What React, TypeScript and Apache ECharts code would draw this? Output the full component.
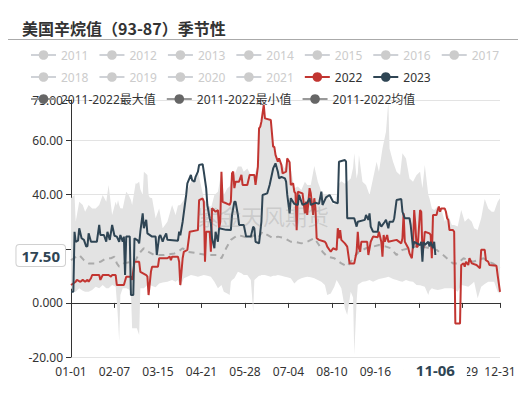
import { useEffect, useRef } from "react";
import * as echarts from "echarts";

const FONT = "'Noto Sans', 'Noto Sans CJK SC', sans-serif";
const TITLE = "美国辛烷值（93-87）季节性";
const WATERMARK = "紫金天风期货";

const hiddenYears = ["2011", "2012", "2013", "2014", "2015", "2016", "2017", "2018", "2019", "2020", "2021"];
const nameMax = "2011-2022最大值";
const nameMin = "2011-2022最小值";
const nameMean = "2011-2022均值";
const pointerDay = "11-06";
const pointerValue = 17.5;
// y tick value whose label sits under the pointer label in the reference
const coveredTick = 20;

// [day index of year, value]
const s2022: [number, number][] = [
  [0, 6.6], [4, 7.8], [5, 8.5], [8, 7.8], [10, 8.5], [12, 7.8], [14, 8.5], [15, 7.8], [17, 9.1], [18, 10.3],
  [24, 10.3], [25, 8.5], [27, 10.3], [32, 10.3], [34, 9.7], [35, 10.3], [38, 10.3], [39, 6.6], [45, 6.6], [47, 9.7],
  [51, 9.7], [52, 8.5], [54, 15.2], [58, 15.2], [59, 11.5], [64, 10.3], [65, 9.7], [66, 2.9], [68, 11.5], [69, 13.4],
  [74, 13.4], [75, 16.5], [82, 16.5], [84, 17.1], [85, 15.8], [86, 17.1], [91, 17.1], [92, 15.2], [93, 6.6], [95, 16.5],
  [96, 18.9], [99, 19.6], [101, 26.3], [108, 26.9], [109, 38], [112, 38.6], [113, 37.4], [114, 15.2], [115, 26.3], [118, 26.3],
  [119, 18.9], [120, 35], [123, 33.7], [125, 34.3], [126, 27.6], [127, 30], [128, 48.5], [129, 37.4], [135, 36.2], [136, 37.4],
  [137, 47.9], [138, 48.5], [139, 42.4], [140, 44.8], [143, 44.8], [145, 47.3], [146, 43.6], [150, 43.6], [152, 47.3], [156, 47.3],
  [157, 43.6], [159, 50.4], [160, 64.5], [161, 65.1], [162, 67], [164, 73.2], [165, 68.2], [170, 67.6], [172, 57.7], [173, 57.7],
  [174, 54.7], [176, 52.2], [177, 53.4], [179, 51], [180, 47.9], [183, 48.5], [184, 53.4], [186, 52], [187, 43.6], [189, 44.2],
  [190, 41.1], [191, 40.5], [192, 26.9], [193, 41.1], [197, 40.5], [199, 33.1], [200, 37.4], [201, 32.5], [203, 42.4], [204, 40.5],
  [206, 32.5], [207, 38.7], [208, 34.9], [209, 23.9], [211, 23.3], [216, 22.6], [217, 22], [218, 20.8], [221, 18.9], [223, 20.2],
  [226, 19.6], [227, 27.6], [228, 23.9], [229, 26.9], [230, 23.3], [233, 22], [235, 20.8], [237, 14.6], [241, 14.6], [243, 18.9],
  [244, 26.3], [245, 20.2], [246, 18.9], [247, 22.6], [252, 22.6], [253, 17.7], [255, 22.6], [257, 24.5], [261, 24.3], [262, 26.3],
  [264, 22.6], [265, 17.1], [266, 25.1], [267, 22.6], [269, 25.1], [270, 22.6], [277, 23.3], [281, 22], [282, 23.9], [283, 33.1],
  [284, 22.6], [287, 20.2], [288, 18.3], [290, 16.5], [291, 21.4], [292, 34.3], [293, 28.8], [294, 20.8], [295, 20.8], [297, 34.3],
  [298, 33.7], [299, 18.9], [300, 20.8], [301, 26.3], [305, 25.7], [306, 25.1], [307, 16.5], [308, 32.5], [311, 32.5], [312, 34.3],
  [313, 35.6], [314, 33.7], [315, 34.9], [318, 34.9], [319, 33.7], [320, 31.3], [321, 30.7], [322, 26.9], [325, 26.9], [326, 26.3],
  [327, -7.6], [331, -7.6], [332, 14], [334, 14.6], [335, 13.4], [336, 15.2], [338, 14], [339, 16.5], [341, 14.6], [345, 14],
  [348, 12.8], [349, 19.6], [352, 19.6], [353, 15.8], [355, 15.2], [356, 14], [362, 13.7], [363, 10.3], [365, 4.1],
];

const s2023: [number, number][] = [
  [0, 4.1], [2, 4.1], [3, 26.3], [4, 22.6], [6, 23], [7, 27.6], [9, 23.9], [11, 23.3], [13, 20.8], [14, 21],
  [15, 25.7], [17, 22.6], [22, 22.6], [24, 28.8], [25, 25.1], [28, 25.1], [30, 22.6], [31, 26.3], [33, 23.3], [35, 28.8],
  [37, 24.8], [39, 24.5], [41, 22.6], [42, 25.1], [44, 22.6], [45, 24.5], [46, 10.3], [47, 24.5], [50, 24.5], [51, 2.9],
  [53, 2.9], [54, 23.9], [57, 23], [58, 22], [59, 26.3], [61, 33.1], [62, 27.6], [64, 30.7], [65, 25.7], [69, 24.5],
  [72, 24.5], [73, 17.7], [75, 24.5], [76, 25.1], [78, 22.6], [79, 23.9], [81, 25.7], [82, 23.3], [91, 23], [92, 26.3],
  [93, 25], [95, 30], [98, 39.9], [99, 44.2], [102, 47.3], [103, 45.4], [105, 44.8], [106, 46.6], [108, 48.5], [109, 51],
  [112, 51.3], [113, 48.5], [115, 42.4], [116, 36.2], [118, 31.3], [119, 29.4], [120, 23.9], [122, 20.2], [123, 26.3], [125, 22.6],
  [126, 27.6], [132, 27], [136, 26.9], [137, 32.5], [139, 37.4], [140, 37.4], [142, 32.5], [143, 28.8], [147, 28.8], [149, 24.5],
  [153, 24.5], [155, 28.2], [156, 27.6], [157, 22.6], [160, 22], [162, 30], [163, 39.9], [167, 40.5], [169, 43.6], [172, 49.7],
  [174, 51.6], [176, 48.5], [177, 46], [179, 46.6], [182, 46], [183, 44.8], [184, 39.9], [186, 33.1], [187, 38.7], [190, 36.6],
  [193, 36.2], [194, 39.9], [197, 36.2], [201, 37], [203, 38.7], [204, 36.2], [208, 37], [211, 36.6], [213, 41.1], [214, 36.2],
  [217, 39], [220, 39.9], [223, 37.4], [227, 36.8], [228, 52.2], [233, 52.8], [234, 52.2], [235, 31.3], [241, 31.3], [243, 28.2],
  [244, 30], [250, 30.7], [251, 32.5], [253, 30.7], [254, 33.1], [255, 28.2], [257, 26.3], [261, 26.3], [262, 30], [264, 28.2],
  [267, 30], [268, 30.7], [270, 27.6], [271, 30], [274, 30], [275, 31.3], [277, 38], [281, 38.4], [282, 33.7], [284, 31.3],
  [288, 31.3], [289, 28.8], [291, 20.2], [292, 22.6], [297, 21.4], [298, 22.6], [299, 15.2], [300, 22.6], [301, 21.4], [304, 22.6],
  [305, 20.8], [306, 22.6], [308, 20.2], [309, 22.6], [310, 17.7],
];

const meanPts: [number, number][] = [
  [0, 15.8], [7, 17.7], [11, 15.8], [15, 14.6], [20, 14.6], [25, 15.2], [30, 16.5], [34, 16.5], [37, 17.1], [39, 14.6],
  [41, 13.4], [45, 14.6], [51, 15.2], [55, 15.8], [58, 18.3], [62, 20.2], [66, 18.9], [71, 17.7], [79, 17.7], [88, 18.3],
  [91, 18.9], [95, 20.2], [99, 18.9], [108, 18.3], [116, 17.7], [125, 17.7], [128, 16.5], [132, 20.2], [136, 23.3], [142, 25.1],
  [147, 24.5], [152, 23.9], [156, 25.1], [159, 23.9], [163, 26.3], [167, 25.1], [172, 23.9], [176, 24.5], [182, 23.9], [187, 22.6],
  [190, 22.6], [196, 22], [201, 22.6], [207, 23.9], [211, 21.4], [214, 18.9], [218, 17.1], [224, 16.5], [230, 14.6], [235, 13.4],
  [240, 16.5], [245, 18.9], [251, 20.2], [257, 20.8], [262, 21.4], [268, 20.8], [272, 20.2], [277, 17.7], [282, 19.6], [288, 20.2],
  [294, 20.8], [299, 20.8], [305, 20.2], [311, 19.6], [315, 18.3], [321, 16], [325, 14.6], [329, 14.6], [334, 16.5], [338, 15.8],
  [342, 15.2], [346, 15.8], [351, 16.5], [355, 15.2], [359, 14.6], [363, 13.4], [365, 13],
];

const bandDays = [
  0, 3, 4, 7, 10, 12, 15, 18, 21, 24, 27, 30, 32, 35, 38, 39, 40, 41, 42, 44,
  47, 49, 51, 52, 55, 56, 58, 59, 61, 62, 65, 66, 67, 69, 72, 75, 78, 82, 86, 89,
  91, 93, 96, 98, 102, 105, 108, 113, 116, 119, 122, 125, 128, 130, 133, 135, 136, 137, 139, 142,
  145, 147, 150, 153, 155, 156, 159, 160, 161, 162, 164, 165, 170, 172, 174, 176, 179, 182, 184, 187,
  190, 193, 196, 199, 201, 204, 207, 210, 213, 216, 218, 221, 224, 226, 228, 230, 233, 235, 238, 240,
  241, 243, 244, 245, 248, 251, 254, 257, 260, 262, 265, 268, 270, 271, 274, 277, 280, 282, 285, 288,
  291, 294, 297, 299, 301, 304, 305, 307, 309, 312, 315, 318, 321, 324, 326, 329, 332, 335, 338, 341,
  343, 346, 349, 352, 355, 358, 360, 363, 365,
];
const bandMax = [
  38.7, 39.9, 30, 37.4, 36.2, 33.7, 36.2, 34.9, 34.9, 36.2, 39.9, 37.4, 43.6, 32.5, 37.4, 36, 38, 36.2, 35, 34.9,
  41.1, 39.9, 38, 36.2, 44.2, 44, 44.8, 42, 39.9, 48.5, 47.3, 39.9, 39, 38.7, 31.3, 34.9, 27.6, 30, 36.2, 32.5,
  36, 36.2, 38, 40.5, 44.8, 46, 48.5, 38.7, 36.2, 34.9, 39.9, 41.1, 48.5, 39.9, 42.4, 43, 44.8, 48, 47.3, 50.4,
  50.4, 48.5, 49.7, 47.3, 47.3, 47.3, 51, 64.5, 65.1, 67, 73.2, 68.2, 67.6, 57.7, 55.3, 53, 51.6, 49.7, 54.1, 49.7,
  42.4, 43, 41.7, 44.8, 43.6, 43.6, 50.6, 44.8, 41.1, 39.9, 39.9, 37.4, 36.2, 39.9, 44, 45, 44, 44.8, 46, 50,
  55.3, 46, 48, 54.7, 44.8, 43.6, 39.9, 46, 52.2, 48.5, 57.1, 63.3, 74.4, 57.1, 52.2, 48.5, 47.3, 55.3, 53.4, 46,
  44.8, 47.3, 48.5, 42.4, 51, 39.9, 38.7, 34.9, 34.3, 35.6, 34.9, 30, 32.5, 28.8, 28.8, 28.2, 34.3, 30, 31.3, 30,
  27.6, 26.9, 31.3, 38.4, 34.9, 33.7, 33.7, 37.4, 38.7,
];
const bandMin = [
  5.4, 4.1, 4.1, 5.4, 4.5, 4.1, 4.1, 4.8, 6, 5.4, 6.6, 5.4, 5.4, 6.6, 6, 0.5, -6, -14.3, 2.9, 5.4,
  5.4, 5, 4.1, -9.4, -9.4, -9.4, -11.9, 5.4, 5.4, 5.4, 6.6, 2.5, 6.6, 6.2, 5.8, 7.2, 7.5, 7.8, 8.5, 7.8,
  8.5, 6, 9.1, 9.5, 10.3, 10, 9.7, 10.3, 10, 9.7, 7.8, 5.4, 6.6, 4.1, 3.5, 2.9, 7.8, 8.5, 9.1, 11.5,
  11, 10.3, 10.3, 8.5, -3.2, 8.5, 9.7, 10, 10, 10.3, 10.3, 10.3, 9.7, 10, 10, 10.3, 10, 9.7, 9.5, 9.1,
  7.2, 8.5, 9.1, 9.5, 9.7, 9.5, 9.1, 8.5, 7.8, 6.6, 2.9, 3.5, 6, 8.5, 7, 5.4, -2, -4.5, 4.1, 2,
  -19.2, 0.5, 6.6, 7, 7.8, 8, 8.5, 7.8, 8.5, 8.8, 9.1, 9.4, 9.7, 9.5, 8.8, 8.5, 8, 7.8, 8.5, 8,
  7.8, 6.6, 6.5, 6.2, 6, 2.9, 4.5, 5.4, 5, 4.8, 5, 5.4, 5.4, 5.4, 5, 4.1, 6.6, 6.3, 6, 7,
  7.8, 1.7, 6, 7, 7.8, 7.8, 7.8, 4.1, 3.5,
];

function buildDays(): string[] {
  const monthLens = [31, 29, 31, 30, 31, 30, 31, 31, 30, 31, 30, 31];
  const out: string[] = [];
  monthLens.forEach((len, m) => {
    for (let d = 1; d <= len; d++) {
      out.push(String(m + 1).padStart(2, "0") + "-" + String(d).padStart(2, "0"));
    }
  });
  return out;
}

export default function App() {
  const ref = useRef<HTMLDivElement>(null);

  useEffect(() => {
    if (!ref.current) return;
    document.body.style.margin = "0";
    const chart = echarts.init(ref.current, null, { renderer: "svg" });
    const days = buildDays();
    const lastIdx = days.length - 1;
    const showIdx = (idx: number) => idx % 37 === 0 || idx === lastIdx;
    const pointerIdx = days.indexOf(pointerDay);

    const grayLegend = {
      itemStyle: { color: "#666" },
      lineStyle: { color: "#999", opacity: 1, type: "solid", width: 2 },
    };

    const selected: Record<string, boolean> = {};
    hiddenYears.forEach((y) => (selected[y] = false));

    const lineBase = {
      type: "line",
      symbol: "circle",
      symbolSize: 6,
      showSymbol: false,
      xAxisIndex: 0,
      yAxisIndex: 0,
    };

    const option: any = {
      animation: false,
      title: {
        text: TITLE,
        left: 17,
        top: 15,
        textStyle: { fontSize: 16, fontWeight: "bold", color: "#333", fontFamily: "'Noto Sans CJK SC', sans-serif" },
      },
      legend: {
        left: 25,
        top: 44,
        right: 10,
        itemWidth: 25,
        itemHeight: 12,
        itemGap: 10,
        inactiveColor: "#ccc",
        textStyle: { fontSize: 12, color: "#333", fontFamily: FONT },
        selected,
        data: [
          ...hiddenYears.map((n) => ({ name: n })),
          { name: "2022" },
          { name: "2023" },
          { name: nameMax, ...grayLegend },
          { name: nameMin, ...grayLegend },
          { name: nameMean, ...grayLegend },
        ],
      },
      grid: { left: 71, right: 26, top: 100, bottom: 38 },
      xAxis: [
        {
          type: "category",
          data: days,
          boundaryGap: false,
          position: "bottom",
          axisLine: { show: false, onZero: false },
          axisTick: { show: false },
          splitLine: { show: false },
          axisLabel: {
            interval: (idx: number) => showIdx(idx),
            color: "#333",
            fontSize: 12,
            fontFamily: FONT,
            margin: 8,
          },
          axisPointer: {
            show: true,
            type: "line",
            status: "show",
            value: pointerIdx,
            triggerTooltip: false,
            lineStyle: { opacity: 0 },
            label: {
              show: true,
              margin: 3,
              padding: [2, 12],
              backgroundColor: "#fff",
              color: "#2f4554",
              fontWeight: "bold",
              fontSize: 15,
              fontFamily: FONT,
              shadowBlur: 0,
            },
          },
        },
        {
          type: "category",
          data: days,
          boundaryGap: false,
          position: "bottom",
          axisLine: { show: true, onZero: true, lineStyle: { color: "#333" } },
          axisTick: { show: true, interval: (idx: number) => showIdx(idx), lineStyle: { color: "#333" } },
          axisLabel: { show: false },
          splitLine: { show: false },
        },
      ],
      yAxis: {
        type: "value",
        min: -20,
        max: 75,
        interval: 20,
        axisLine: { show: true, lineStyle: { color: "#333" } },
        axisTick: { show: true, lineStyle: { color: "#333" } },
        axisLabel: {
          color: "#333",
          fontSize: 12,
          fontFamily: FONT,
          formatter: (v: number) => (v === coveredTick ? "" : v.toPrecision(4)),
        },
        splitLine: { lineStyle: { color: "#e3e3e3" } },
        axisPointer: {
          show: true,
          type: "line",
          status: "show",
          value: pointerValue,
          triggerTooltip: false,
          lineStyle: { opacity: 0 },
          label: {
            show: true,
            precision: 2,
            margin: 6,
            padding: [3, 5],
            backgroundColor: "#fff",
            borderColor: "#d0d0d0",
            borderWidth: 1,
            color: "#2f4554",
            fontWeight: "bold",
            fontSize: 15,
            fontFamily: FONT,
            shadowBlur: 0,
          },
        },
      },
      graphic: [
        {
          type: "line",
          shape: { x1: 8, y1: 39.5, x2: 518, y2: 39.5 },
          style: { stroke: "#aaa", lineWidth: 1 },
          silent: true,
        },
        {
          type: "text",
          left: 197,
          top: 204,
          z: 100,
          silent: true,
          style: {
            text: WATERMARK,
            fontSize: 22,
            fontFamily: "'Noto Sans CJK SC', sans-serif",
            fill: "rgba(120,120,120,0.22)",
          },
        },
      ],
      series: [
        ...hiddenYears.map((n) => ({ ...lineBase, name: n, data: [] })),
        {
          ...lineBase,
          name: nameMin,
          stack: "band",
          stackStrategy: "all",
          data: bandDays.map((d, k) => [d, bandMin[k]]),
          itemStyle: { color: "#666" },
          lineStyle: { opacity: 0 },
          z: 1,
        },
        {
          ...lineBase,
          name: nameMax,
          stack: "band",
          stackStrategy: "all",
          data: bandDays.map((d, k) => [d, +(bandMax[k] - bandMin[k]).toFixed(2)]),
          itemStyle: { color: "#666" },
          lineStyle: { opacity: 0 },
          areaStyle: { color: "#e3e3e3", opacity: 1 },
          z: 1,
        },
        {
          ...lineBase,
          name: nameMean,
          data: meanPts,
          itemStyle: { color: "#666" },
          lineStyle: { color: "#aaa", width: 2, type: [6, 5] },
          z: 2,
        },
        {
          ...lineBase,
          name: "2022",
          data: s2022,
          itemStyle: { color: "#c23531" },
          lineStyle: { color: "#c23531", width: 2 },
          z: 3,
        },
        {
          ...lineBase,
          name: "2023",
          data: s2023,
          itemStyle: { color: "#2f4554" },
          lineStyle: { color: "#2f4554", width: 2 },
          z: 4,
        },
      ],
    };

    chart.setOption(option);
    return () => chart.dispose();
  }, []);

  return <div ref={ref} style={{ width: 526, height: 395 }} />;
}
